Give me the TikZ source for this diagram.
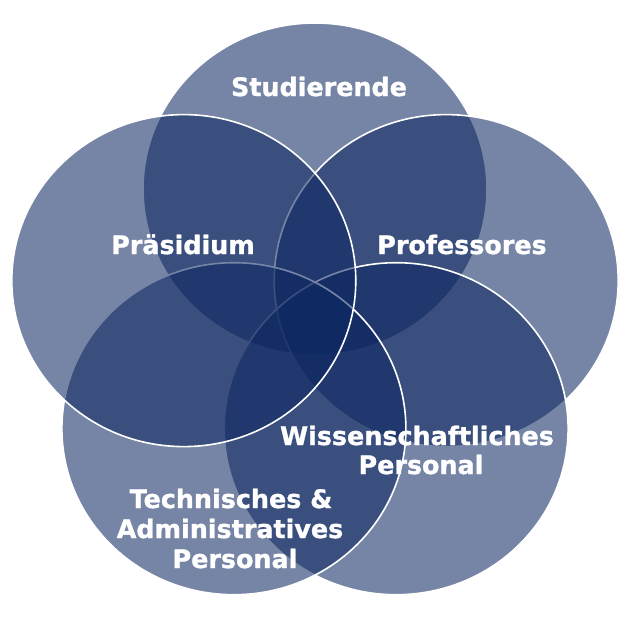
\documentclass[tikz,border=0pt]{standalone}
\usepackage{fontspec}
\setmainfont{DejaVu Sans}
\newfontfamily\labfont[FakeBold=1.2]{DejaVu Sans Bold}
\definecolor{vennblue}{RGB}{12,38,96}
\begin{document}
\begin{tikzpicture}[x=1pt,y=-1pt,
  venn/.style={fill=vennblue, fill opacity=0.56, draw=white, draw opacity=1, line width=1.6pt},
  lab/.style={text=white, font=\fontsize{25.4}{30}\labfont, inner sep=0pt, anchor=base}]
\useasboundingbox[fill=white] (0,0) rectangle (640,626);
% circles (drawn in SmartArt order: top, right, bottom right, bottom left, left)
\path[venn] (315,189) ellipse [x radius=172, y radius=166];
\path[venn] (446.2,280.6) ellipse [x radius=172, y radius=166];
\path[venn] (396.1,428.7) ellipse [x radius=172, y radius=166];
\path[venn] (233.9,428.7) ellipse [x radius=172, y radius=166];
\path[venn] (183.8,280.6) ellipse [x radius=172, y radius=166];
% labels
\node[lab] (stud) at (319,96) {Studierende};
\node[lab] (pras) at (183,254) {Präsidium};
\node[lab] (prof) at (462,254) {Professores};
\node[lab] (wiss1) at (417,445) {Wissenschaftliches};
\node[lab] (wiss2) at (421,474) {Personal};
\node[lab] (tech1) at (231,508) {Technisches \&};
\node[lab] (tech2) at (230,538) {Administratives};
\node[lab] (tech3) at (235,568) {Personal};
\end{tikzpicture}
\end{document}
